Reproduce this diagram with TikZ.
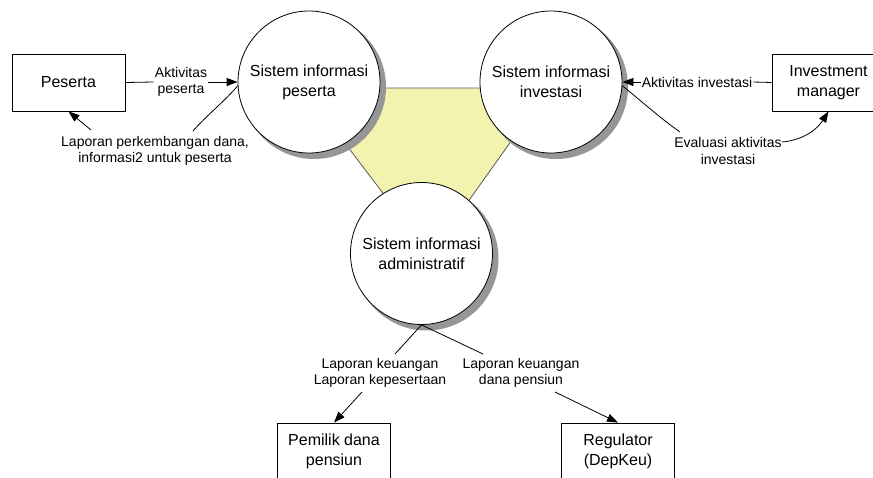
\documentclass[tikz,border=0pt]{standalone}
\usepackage{fontspec}
\setmainfont{Liberation Sans}
\usetikzlibrary{arrows.meta}
\definecolor{triyel}{RGB}{243,243,176}
\definecolor{triedge}{RGB}{90,90,90}
\definecolor{shgray}{RGB}{150,150,150}
\begin{document}
\begin{tikzpicture}[x=1pt,y=-1pt,
  box/.style={draw, line width=0.8pt, minimum width=113pt, minimum height=57pt, inner sep=0pt, align=center, fill=white, font=\fontsize{16}{20}\selectfont},
  proc/.style={circle, draw, fill=white, minimum size=142pt, inner sep=0pt, align=center, line width=0.8pt, font=\fontsize{16}{20}\selectfont},
  shadowdisc/.style={fill=shgray, draw=shgray, line width=3pt},
  lbl/.style={align=center, inner sep=1pt, font=\fontsize{14}{16.5}\selectfont},
  flow/.style={line width=0.8pt},
  arr/.style={flow, -{Triangle[length=11pt,width=8pt]}}]
\useasboundingbox (0,0) rectangle (873,477);
% triangle
\filldraw[fill=triyel, draw=triedge, line width=0.8pt] (303,88) -- (549,88) -- (430,255) -- cycle;
% shadows
\filldraw[shadowdisc] (314,87) circle[radius=70.5pt];
\filldraw[shadowdisc] (556,87) circle[radius=70.5pt];
\filldraw[shadowdisc] (426.5,258.5) circle[radius=70.5pt];
% processes
\node[proc] (c1) at (309,82) {Sistem informasi\\peserta};
\node[proc] (c2) at (551,82) {Sistem informasi\\investasi};
\node[proc] (c3) at (421.5,253.5) {Sistem informasi\\administratif};
% entities
\node[box] (pes) at (68.5,82.5) {Peserta};
\node[box] (inv) at (828.5,82.5) {Investment\\manager};
\node[box] (pem) at (334,451.5) {Pemilik dana\\pensiun};
\node[box] (reg) at (618,451.5) {Regulator\\(DepKeu)};
% labels
\node[lbl] (l1) at (181,82) {Aktivitas\\peserta};
\node[lbl] (l2) at (155,151) {Laporan perkembangan dana,\\informasi2 untuk peserta};
\node[lbl] (l3) at (697,82) {Aktivitas investasi};
\node[lbl] (l4) at (728,151) {Evaluasi aktivitas\\investasi};
\node[lbl] (l5) at (380,373) {Laporan keuangan\\Laporan kepesertaan};
\node[lbl] (l6) at (521,373) {Laporan keuangan\\dana pensiun};
% free ends near labels
\coordinate (e2a) at (193,131);
\coordinate (e2b) at (91,130);
\coordinate (e4a) at (680,132);
\coordinate (e4b) at (782,142);
\coordinate (e5a) at (395,354);
\coordinate (e5b) at (362,392);
\coordinate (e6a) at (483,354);
\coordinate (e6b) at (555,392);
% flows
\draw[flow] (pes.east) -- (l1.west);
\draw[arr] (l1.east) -- (c1.west);
\draw[flow] (c1.183) .. controls (228,98) and (205,117) .. (e2a);
\draw[arr] (e2b) -- (pes.south);
\draw[flow] (inv.west) -- (l3.east);
\draw[arr] (l3.west) -- (c2.east);
\draw[flow] (c2.-3) .. controls (640,100) and (660,118) .. (e4a);
\draw[arr] (e4b) .. controls (805,140) and (818,128) .. (inv.south);
\draw[flow] (c3.south) -- (e5a);
\draw[arr] (e5b) -- (pem.north);
\draw[flow] (c3.south) -- (e6a);
\draw[arr] (e6b) -- (reg.north);
\end{tikzpicture}
\end{document}
